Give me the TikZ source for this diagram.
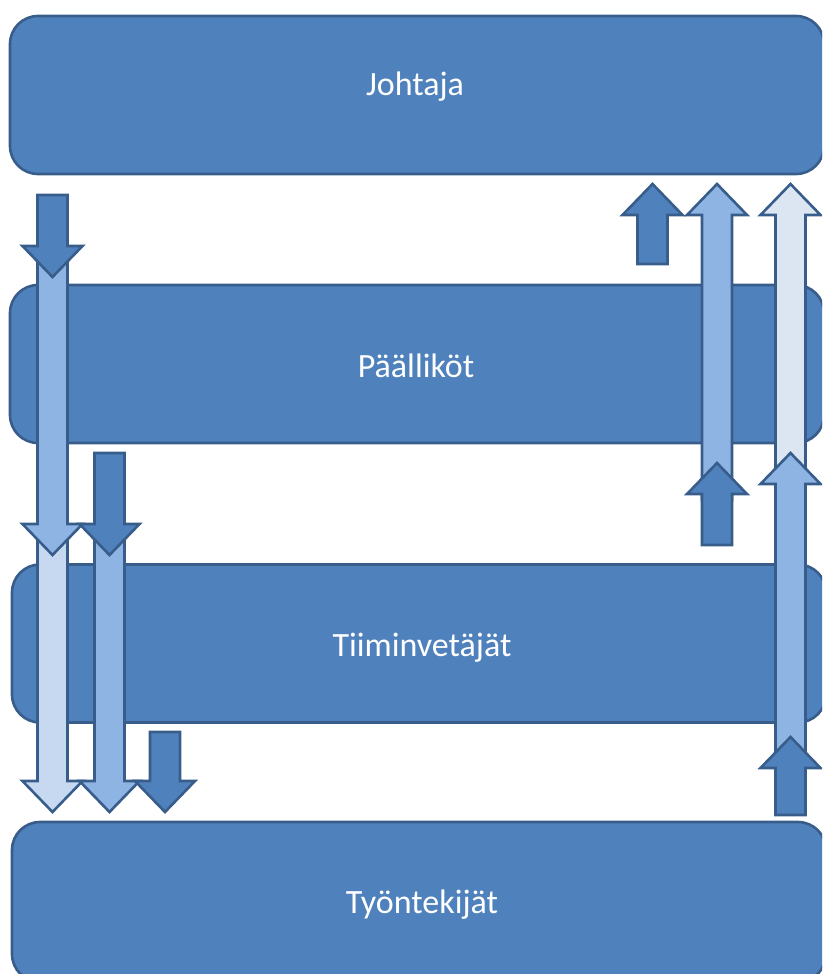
\documentclass[tikz,border=0pt]{standalone}
\usepackage{fontspec}
\setmainfont{Carlito}
\usepackage{xcolor}
\usepackage{tikz}
\usetikzlibrary{positioning}

\definecolor{tierblue}{HTML}{4F81BD}
\definecolor{tierline}{HTML}{385D8A}
\definecolor{flowmid}{HTML}{8EB4E3}
\definecolor{flowpale}{HTML}{C6D9F1}
\definecolor{flowpalest}{HTML}{DCE6F2}

\tikzset{
  tierbox/.style={draw=tierline, line width=2.6pt, fill=tierblue,
    rounded corners=28pt, minimum width=814pt, minimum height=158pt,
    inner sep=0pt, outer sep=0pt},
  tiertext/.style={text=white, font=\fontsize{34}{40}\selectfont, anchor=base},
  flowarrow/.style={draw=tierline, line width=2.6pt, line join=miter}
}

% block arrow down: centre x, top y, tip y, fill
\newcommand{\downflow}[4]{%
  \draw[flowarrow,fill=#4] (#1-15,#2) -- (#1+15,#2) -- (#1+15,#3-31)
    -- (#1+30,#3-31) -- (#1,#3) -- (#1-30,#3-31) -- (#1-15,#3-31) -- cycle;}
% block arrow up: centre x, tip y, bottom y, fill
\newcommand{\upflow}[4]{%
  \draw[flowarrow,fill=#4] (#1-15,#3) -- (#1+15,#3) -- (#1+15,#2+31)
    -- (#1+30,#2+31) -- (#1,#2) -- (#1-30,#2+31) -- (#1-15,#2+31) -- cycle;}

\begin{document}
\begin{tikzpicture}[x=1pt,y=-1pt]
  \useasboundingbox (0,0) rectangle (822,974);
  \clip (0,0) rectangle (822,974);

  % the four levels
  \node[tierbox] (johtaja) at (417,95) {};
  \node[tierbox] (paallikot) at (417,364) {};
  \node[tierbox] (tiimi) at (419,643.5) {};
  \node[tierbox, minimum height=160pt] (tyontekijat) at (419,902) {};
  \node[tiertext] (johtajaLbl) at (415,95) {Johtaja};
  \node[tiertext] (paallikotLbl) at (416,377) {Päälliköt};
  \node[tiertext] (tiimiLbl) at (422,656) {Tiiminvetäjät};
  \node[tiertext] (tyontekijatLbl) at (422,913) {Työntekijät};

  % downward flows
  \downflow{52.5}{530}{812}{flowpale}
  \downflow{52.5}{250}{555}{flowmid}
  \downflow{52.5}{195}{277}{tierblue}
  \downflow{109.5}{530}{812}{flowmid}
  \downflow{109.5}{453}{555}{tierblue}
  \downflow{165}{732}{812}{tierblue}

  % upward flows
  \upflow{652.5}{184}{264}{tierblue}
  \upflow{717}{184}{500}{flowmid}
  \upflow{717}{463}{545}{tierblue}
  \upflow{790.5}{184}{470}{flowpalest}
  \upflow{790.5}{453}{780}{flowmid}
  \upflow{790.5}{737}{815}{tierblue}
\end{tikzpicture}
\end{document}
